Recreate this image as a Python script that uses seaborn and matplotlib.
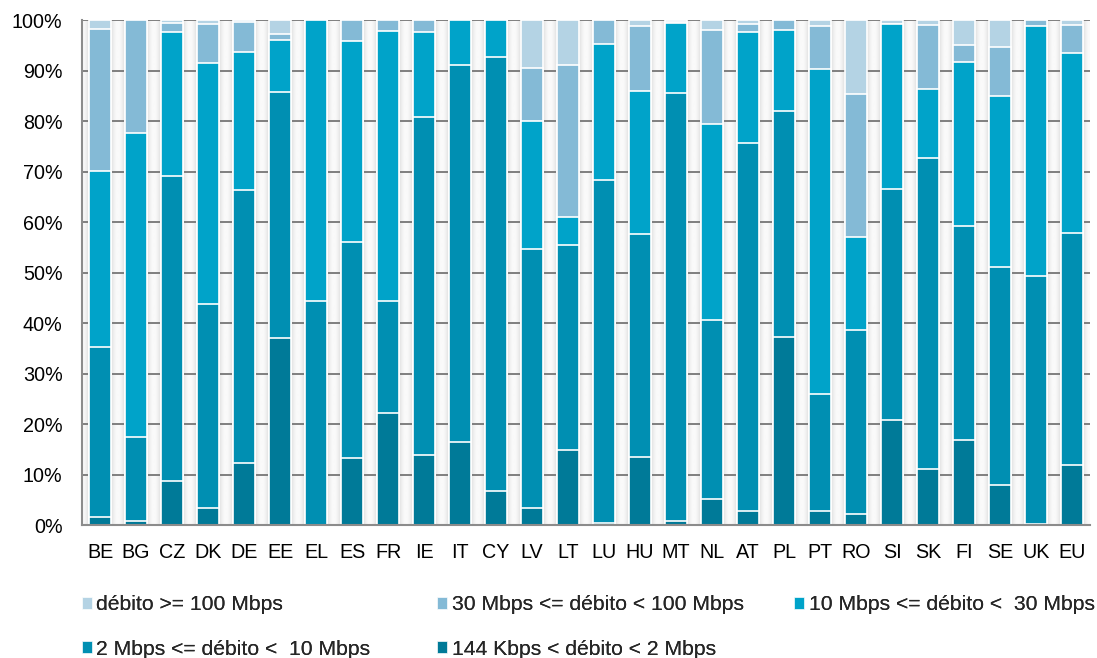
import numpy as np
import pandas as pd
import matplotlib
matplotlib.use("Agg")
import matplotlib.pyplot as plt
from matplotlib.patches import Patch
from matplotlib.ticker import FixedLocator
import seaborn as sns

# Broadband subscriptions by speed class, share of total (%)
countries = ["BE", "BG", "CZ", "DK", "DE", "EE", "EL", "ES", "FR", "IE", "IT", "CY",
             "LV", "LT", "LU", "HU", "MT", "NL", "AT", "PL", "PT", "RO", "SI", "SK",
             "FI", "SE", "UK", "EU"]

kbps144_2m = [1.5, 0.8, 8.7, 3.3, 12.3, 37.1, 0.1, 13.3, 22.2, 13.9, 16.5, 6.7,
              3.4, 14.9, 0.4, 13.5, 0.7, 5.1, 2.7, 37.2, 2.8, 2.2, 20.7, 11.0,
              16.8, 7.9, 0.3, 11.9]
mbps2_10 = [33.8, 16.7, 60.5, 40.5, 54.0, 48.6, 44.3, 42.7, 22.1, 66.8, 74.6, 85.9,
            51.2, 40.5, 67.9, 44.1, 84.8, 35.4, 73.0, 44.8, 23.2, 36.5, 45.8, 61.7,
            42.5, 43.1, 49.1, 45.9]
mbps10_30 = [34.8, 60.1, 28.4, 47.7, 27.4, 10.3, 55.6, 39.9, 53.5, 16.9, 8.9, 7.4,
             25.4, 5.6, 26.9, 28.3, 13.9, 39.0, 21.9, 16.0, 64.3, 18.4, 32.7, 13.6,
             32.4, 34.0, 49.4, 35.7]
mbps30_100 = [28.2, 22.4, 1.9, 7.8, 5.9, 1.3, 0.0, 4.1, 2.2, 2.4, 0.0, 0.0,
              10.4, 30.1, 4.8, 12.9, 0.3, 18.5, 1.6, 2.0, 8.6, 28.2, 0.0, 12.8,
              3.3, 9.7, 1.2, 5.5]
mbps100_plus = [1.7, 0.0, 0.5, 0.7, 0.4, 2.7, 0.0, 0.0, 0.0, 0.0, 0.0, 0.0,
                9.6, 8.9, 0.0, 1.2, 0.3, 2.0, 0.8, 0.0, 1.1, 14.7, 0.8, 0.9,
                5.0, 5.3, 0.0, 1.0]

labels = ["144 Kbps < débito < 2 Mbps",
          "2 Mbps <= débito <  10 Mbps",
          "10 Mbps <= débito <  30 Mbps",
          "30 Mbps <= débito < 100 Mbps",
          "débito >= 100 Mbps"]
colors = ["#007a98", "#008fb2", "#00a3c9", "#84bad6", "#b4d3e4"]

layers = [kbps144_2m, mbps2_10, mbps10_30, mbps30_100, mbps100_plus]
df = pd.DataFrame({"country": countries})
cum = np.zeros(len(countries))
for lab, vals in zip(labels, layers):
    cum = cum + np.array(vals)
    df[lab] = cum

sns.set_theme(style="white")
plt.rcParams["font.family"] = ["Liberation Sans", "DejaVu Sans"]

fig = plt.figure(figsize=(10.97, 6.58), dpi=100)
ax = fig.add_axes([0.0748, 0.2021, 0.9188, 0.7675])

n = len(countries)
# shaded channels between the bars
per = 80
frac = (np.arange(n * per) + 0.5) / per % 1.0
d = np.abs(frac - 0.5)
t = np.clip((d - 0.31) / 0.19, 0, 1)
shade = 0.86 + 0.12 * np.sin(t * np.pi / 2) ** 0.8
ax.imshow(shade[np.newaxis, :], cmap="gray", vmin=0, vmax=1, aspect="auto",
          extent=(-0.5, n - 0.5, 0, 100), zorder=0, interpolation="bilinear")

# stacked bars: draw cumulative totals from the top layer down
for lab, col in reversed(list(zip(labels, colors))):
    sns.barplot(data=df, x="country", y=lab, color=col, saturation=1,
                width=0.62, edgecolor="white", linewidth=1.2, ax=ax, zorder=2)

ax.set_xlim(-0.5, n - 0.5)
ax.set_ylim(0, 100)
ax.set_xlabel("")
ax.set_ylabel("")

yt = np.arange(0, 101, 10)
ax.set_yticks(yt)
ax.set_yticklabels([f"{v}%" for v in yt])
ax.yaxis.grid(True, color="#7f7f7f", linewidth=1.4, zorder=1)
ax.xaxis.grid(False)
ax.set_axisbelow(True)

ax.xaxis.set_minor_locator(FixedLocator(np.arange(-0.5, n, 1.0)))
ax.tick_params(axis="x", which="major", length=0, pad=13, labelsize=14.2, colors="black")
ax.tick_params(axis="x", which="minor", length=5, width=1.2, color="#8c8c8c", direction="out")
ax.tick_params(axis="y", which="major", length=5, width=1.2, color="#8c8c8c",
               direction="out", pad=9, labelsize=14.2, labelcolor="black")
ax.tick_params(axis="x", labelcolor="black")

for side in ["top", "right"]:
    ax.spines[side].set_visible(False)
for side in ["left", "bottom"]:
    ax.spines[side].set_color("#8c8c8c")
    ax.spines[side].set_linewidth(1.5)

# legend laid out in three columns under the chart
handles = {lab: Patch(facecolor=col, edgecolor="white", linewidth=0.5)
           for lab, col in zip(labels, colors)}
groups = [
    ([labels[4], labels[1]], 0.0745),
    ([labels[3], labels[0]], 0.3984),
    ([labels[2]], 0.7238),
]
for labs, x0 in groups:
    leg = fig.legend([handles[l] for l in labs], labs, loc="upper left",
                     bbox_to_anchor=(x0, 0.095), frameon=False, fontsize=15.2,
                     handlelength=0.47, handleheight=0.47, handletextpad=0.22,
                     labelspacing=1.19, borderpad=0, borderaxespad=0)
    fig.add_artist(leg)

fig.savefig("out.png", dpi=100)
